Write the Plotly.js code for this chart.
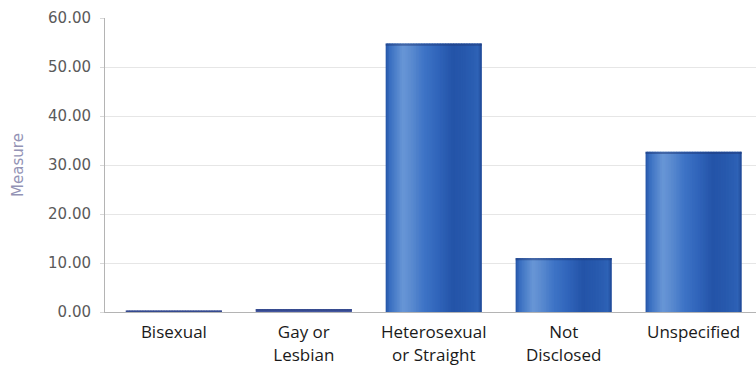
<!DOCTYPE html>
<html>
<head>
<meta charset="utf-8">
<script src="https://cdn.plot.ly/plotly-3.0.1.min.js"></script>
<style>
  html, body { margin: 0; padding: 0; background: #ffffff; }
  #chart { width: 756px; height: 374px; }
</style>
</head>
<body>
<div id="chart"></div>
<script>
// Categories and measured values
const categories = [
  "Bisexual",
  "Gay or<br>Lesbian",
  "Heterosexual<br>or Straight",
  "Not<br>Disclosed",
  "Unspecified"
];
const measure = [0.3, 0.6, 54.8, 11.0, 32.7];
const yTicks = [0, 10, 20, 30, 40, 50, 60];

// Cylinder-like shading across each bar: [position 0..1, rgb]
const barWidth = 0.74;
const shadeStops = [
  [0.00, [36, 84, 166]],
  [0.04, [56, 110, 192]],
  [0.18, [104, 150, 214]],
  [0.26, [92, 140, 208]],
  [0.40, [62, 116, 198]],
  [0.55, [48, 100, 186]],
  [0.70, [36, 84, 168]],
  [0.85, [40, 90, 174]],
  [0.96, [46, 98, 182]],
  [1.00, [30, 70, 148]]
];
function shadeAt(t) {
  for (let i = 1; i < shadeStops.length; i++) {
    const [p1, c1] = shadeStops[i - 1];
    const [p2, c2] = shadeStops[i];
    if (t <= p2) {
      const f = (t - p1) / (p2 - p1);
      const c = c1.map((v, j) => Math.round(v + (c2[j] - v) * f));
      return `rgb(${c[0]},${c[1]},${c[2]})`;
    }
  }
  const c = shadeStops[shadeStops.length - 1][1];
  return `rgb(${c[0]},${c[1]},${c[2]})`;
}
const smallBarColor = "#4c5ca6";
const nStripes = 60;

const xs = categories.map((_, i) => i);
const traces = [];
for (let k = 0; k < nStripes; k++) {
  const w = barWidth / nStripes;
  const col = shadeAt((k + 0.5) / nStripes);
  traces.push({
    type: "bar",
    x: xs,
    y: measure,
    width: k === nStripes - 1 ? w : w * 1.6,
    offset: -barWidth / 2 + k * w,
    marker: {
      color: measure.map(v => v < 2 ? smallBarColor : col),
      line: { width: 0 }
    },
    hoverinfo: "skip",
    showlegend: false
  });
}
// darker cap along the top edge of each bar
traces.push({
  type: "bar",
  x: xs,
  y: measure.map(v => Math.min(0.45, v)),
  base: measure.map(v => v - Math.min(0.45, v)),
  width: barWidth,
  marker: { color: "rgba(30,55,120,0.5)", line: { width: 0 } },
  hoverinfo: "skip",
  showlegend: false
});

const layout = {
  width: 756,
  height: 374,
  margin: { l: 105, r: 0, t: 18, b: 62 },
  paper_bgcolor: "#ffffff",
  plot_bgcolor: "#ffffff",
  barmode: "overlay",
  showlegend: false,
  xaxis: {
    type: "linear",
    range: [-0.53, 4.48],
    tickmode: "array",
    tickvals: xs,
    ticktext: categories,
    showgrid: false,
    zeroline: false,
    showline: true,
    linecolor: "#b4b4b4",
    linewidth: 1,
    ticks: "",
    ticklabelstandoff: 5,
    tickfont: { family: "Open Sans, Noto Sans, sans-serif", size: 17, color: "#1a1a1a" }
  },
  yaxis: {
    range: [0, 60],
    tickmode: "array",
    tickvals: yTicks,
    ticktext: yTicks.map(v => v.toFixed(2)),
    showgrid: true,
    gridcolor: "#e6e6e6",
    gridwidth: 1,
    zeroline: false,
    showline: true,
    linecolor: "#b4b4b4",
    linewidth: 1,
    ticks: "outside",
    ticklen: 4,
    tickcolor: "#d8d8d8",
    ticklabelstandoff: 6,
    tickfont: { family: "DejaVu Sans, sans-serif", size: 15, color: "#5a5a5a" },
    title: {
      text: "Measure",
      font: { family: "DejaVu Sans, sans-serif", size: 15, color: "#9393b5" },
      standoff: 20
    }
  }
};

Plotly.newPlot("chart", traces, layout, { staticPlot: true, displayModeBar: false });
</script>
</body>
</html>
